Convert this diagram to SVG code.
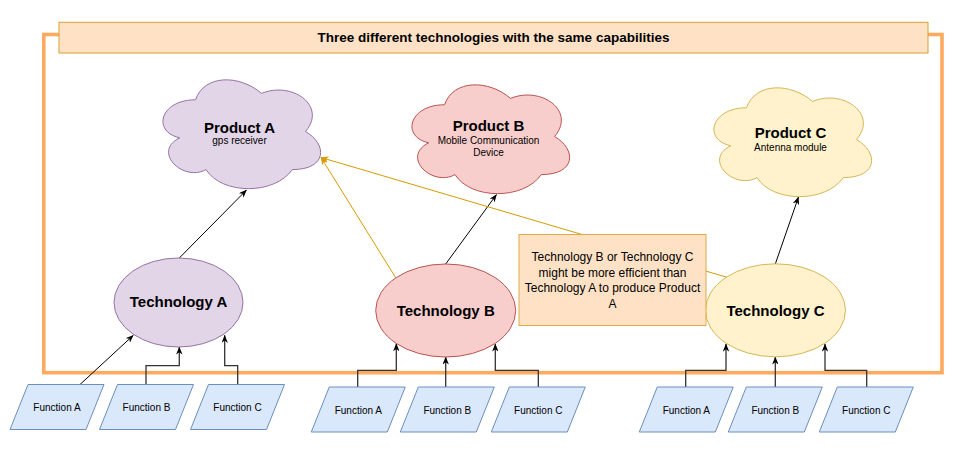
<svg xmlns="http://www.w3.org/2000/svg" width="971" height="451" viewBox="0 0 971 451">
<style>
text{font-family:"Liberation Sans",Arial,sans-serif;fill:#000;text-anchor:middle}
.t{font-size:13.5px;font-weight:bold}
.p{font-size:15px;font-weight:bold}
.s{font-size:10px}
.n{font-size:12px}
.f{font-size:10px}
.fn{fill:#dae8fc;stroke:#6c8ebf;stroke-width:1}
.k{fill:none;stroke:#000;stroke-width:1}
.g{fill:none;stroke:#333;stroke-width:1.3}
.o{fill:none;stroke:#d79b00;stroke-width:1}
</style>
<defs>
<path id="cloud" d="M44,31.75 C8.8,31.75 0,63.5 28.16,69.85 C0,83.82 31.68,114.3 54.56,101.6 C70.4,127 123.2,127 140.8,101.6 C176,101.6 176,76.2 154,63.5 C176,38.1 140.8,12.7 110,25.4 C88,6.35 52.8,6.35 44,31.75 Z"/>
<polygon id="para" points="18,0 94,0 76,45 0,45"/>
<marker id="ak" viewBox="0 0 10 8" refX="9.5" refY="4" markerWidth="8" markerHeight="6.4" markerUnits="userSpaceOnUse" orient="auto">
<path d="M0,0 L10,4 L0,8 L3,4 Z" fill="#000"/>
</marker>
<marker id="ao" viewBox="0 0 10 8" refX="9.5" refY="4" markerWidth="8" markerHeight="6.4" markerUnits="userSpaceOnUse" orient="auto">
<path d="M0,0 L10,4 L0,8 L3,4 Z" fill="#d79b00"/>
</marker>
</defs>
<rect x="0" y="0" width="971" height="451" fill="#fff"/>
<g id="frame">
<rect x="43.8" y="34.5" width="898.2" height="338.2" fill="none" stroke="#ffab5f" stroke-width="3.6"/>
</g>
<g id="title">
<rect x="59" y="22.3" width="869" height="30.7" fill="#ffe2c6" stroke="#d9a030" stroke-width="1"/>
<text class="t" x="493.5" y="41.8">Three different technologies with the same capabilities</text>
</g>
<g id="connectors">
<line class="k" x1="179.3" y1="258" x2="246.5" y2="190" marker-end="url(#ak)"/>
<line class="k" x1="445.7" y1="264" x2="496.5" y2="194.5" marker-end="url(#ak)"/>
<line class="k" x1="775.3" y1="264" x2="798.5" y2="197" marker-end="url(#ak)"/>
<line class="o" x1="395.7" y1="277.7" x2="321" y2="157.5" marker-end="url(#ao)"/>
<line class="o" x1="727" y1="277.3" x2="321" y2="157.5" marker-end="url(#ao)"/>
<line class="k" x1="80" y1="384.5" x2="133.3" y2="335.3" marker-end="url(#ak)"/>
<path class="g" d="M146,384.5 V365.7 H179.3 V347" marker-end="url(#ak)"/>
<path class="g" d="M237.7,384.5 V365.7 H224.7 V335.3" marker-end="url(#ak)"/>
<path class="g" d="M357.7,387 V370.3 H396.3 V343.7" marker-end="url(#ak)"/>
<path class="g" d="M445.7,387 V357" marker-end="url(#ak)"/>
<path class="g" d="M538.3,387 V370.3 H495.3 V344" marker-end="url(#ak)"/>
<path class="g" d="M685.7,387 V370.3 H726 V344" marker-end="url(#ak)"/>
<path class="g" d="M775.3,387 V357" marker-end="url(#ak)"/>
<path class="g" d="M866.7,387 V370.3 H825 V344" marker-end="url(#ak)"/>
</g>
<g id="productA">
<use href="#cloud" x="151.5" y="68" fill="#e1d5e7" stroke="#9673a6"/>
<text class="p" x="239.5" y="133.3">Product A</text>
<text class="s" x="239.5" y="144">gps receiver</text>
</g>
<g id="productB">
<use href="#cloud" x="400.5" y="73" fill="#f8cecc" stroke="#b85450"/>
<text class="p" x="488.5" y="131">Product B</text>
<text class="s" x="488.5" y="144">Mobile Communication</text>
<text class="s" x="488.5" y="155.5">Device</text>
</g>
<g id="productC">
<use href="#cloud" x="702.5" y="76" fill="#fff2cc" stroke="#d6b656"/>
<text class="p" x="790.5" y="138.3">Product C</text>
<text class="s" x="790.5" y="151">Antenna module</text>
</g>
<g id="techA">
<ellipse cx="178.5" cy="302.5" rx="64.5" ry="44.5" fill="#e1d5e7" stroke="#9673a6"/>
<text class="p" x="178.5" y="307.4">Technology A</text>
</g>
<g id="techB">
<ellipse cx="445.7" cy="310.5" rx="70" ry="46.5" fill="#f8cecc" stroke="#b85450"/>
<text class="p" x="445.7" y="316">Technology B</text>
</g>
<g id="techC">
<ellipse cx="775.5" cy="310.3" rx="70" ry="46.5" fill="#fff2cc" stroke="#d6b656"/>
<text class="p" x="775.5" y="316">Technology C</text>
</g>
<g id="note">
<rect x="519" y="234.5" width="187" height="91" fill="#ffe2c6" stroke="#e0aa45" stroke-width="1"/>
<text class="n" x="612.5" y="260.5">Technology B or Technology C</text>
<text class="n" x="612.5" y="276.5">might be more efficient than</text>
<text class="n" x="612.5" y="292.3">Technology A to produce Product</text>
<text class="n" x="612.5" y="308">A</text>
</g>
<g id="fA1"><use href="#para" x="10" y="384.5" class="fn"/><text class="f" x="57" y="411">Function A</text></g>
<g id="fB1"><use href="#para" x="99.5" y="384.5" class="fn"/><text class="f" x="146.5" y="411">Function B</text></g>
<g id="fC1"><use href="#para" x="190.5" y="384.5" class="fn"/><text class="f" x="237.5" y="411">Function C</text></g>
<g id="fA2"><use href="#para" x="311.3" y="387" class="fn"/><text class="f" x="358.3" y="414">Function A</text></g>
<g id="fB2"><use href="#para" x="400.3" y="387" class="fn"/><text class="f" x="447.3" y="414">Function B</text></g>
<g id="fC2"><use href="#para" x="491.3" y="387" class="fn"/><text class="f" x="538.3" y="414">Function C</text></g>
<g id="fA3"><use href="#para" x="639.3" y="387" class="fn"/><text class="f" x="686.3" y="414">Function A</text></g>
<g id="fB3"><use href="#para" x="728.3" y="387" class="fn"/><text class="f" x="775.3" y="414">Function B</text></g>
<g id="fC3"><use href="#para" x="819.3" y="387" class="fn"/><text class="f" x="866.3" y="414">Function C</text></g>
</svg>
